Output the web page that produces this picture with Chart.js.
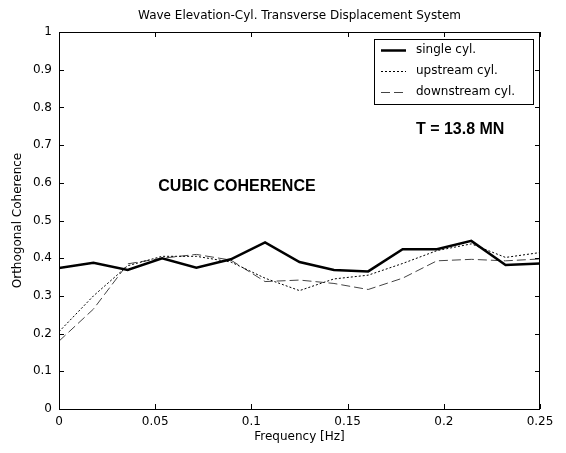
<!DOCTYPE html>
<html>
<head>
<meta charset="utf-8">
<script src="https://cdn.jsdelivr.net/npm/chart.js@4"></script>
<style>
  html, body { margin: 0; padding: 0; background: #fff; }
  #wrap { width: 566px; height: 453px; }
</style>
</head>
<body>
<div id="wrap"><canvas id="coh" width="566" height="453"></canvas></div>
<script>
// frequencies [Hz]
const freq = [0, 0.0179, 0.0357, 0.0536, 0.0714, 0.0893, 0.1071, 0.125, 0.1429, 0.1607, 0.1786, 0.1964, 0.2143, 0.2321, 0.25];
const singleCyl = [0.374, 0.388, 0.369, 0.400, 0.375, 0.397, 0.442, 0.390, 0.369, 0.365, 0.424, 0.424, 0.446, 0.382, 0.386];
const upstreamCyl = [0.205, 0.300, 0.380, 0.405, 0.405, 0.390, 0.347, 0.314, 0.345, 0.355, 0.386, 0.420, 0.438, 0.402, 0.415];
const downstreamCyl = [0.180, 0.265, 0.385, 0.400, 0.410, 0.395, 0.338, 0.342, 0.333, 0.317, 0.347, 0.393, 0.397, 0.393, 0.398];
const xTicks = [0, 0.05, 0.1, 0.15, 0.2, 0.25];
const yTicks = [0, 0.1, 0.2, 0.3, 0.4, 0.5, 0.6, 0.7, 0.8, 0.9, 1];
const legendLabels = ['single cyl.', 'upstream cyl.', 'downstream cyl.'];

const FONT = '"DejaVu Sans", sans-serif';
const BOLD = 'Arial, "Liberation Sans", sans-serif';

function pts(ys) {
  return freq.map((f, i) => ({ x: f, y: ys[i] }));
}

// matlab-like box, inward ticks, titles, legend and text notes
const matlabBox = {
  id: 'matlabBox',
  afterDraw(chart) {
    const ctx = chart.ctx;
    const a = chart.chartArea;
    const xs = chart.scales.x, ys = chart.scales.y;
    ctx.save();
    ctx.strokeStyle = '#000';
    ctx.lineWidth = 1;
    ctx.setLineDash([]);
    ctx.strokeRect(Math.round(a.left) + 0.5, Math.round(a.top) + 0.5,
      Math.round(a.right - a.left) - 1, Math.round(a.bottom - a.top));
    ctx.beginPath();
    xTicks.forEach(v => {
      const px = Math.round(xs.getPixelForValue(v)) + 0.5;
      ctx.moveTo(px, a.bottom); ctx.lineTo(px, a.bottom - 5);
      ctx.moveTo(px, a.top); ctx.lineTo(px, a.top + 5);
    });
    yTicks.forEach(v => {
      const py = Math.round(ys.getPixelForValue(v)) + 0.5;
      ctx.moveTo(a.left, py); ctx.lineTo(a.left + 5, py);
      ctx.moveTo(a.right, py); ctx.lineTo(a.right - 5, py);
    });
    ctx.stroke();

    ctx.fillStyle = '#000';
    ctx.textAlign = 'center';
    ctx.textBaseline = 'middle';
    ctx.font = '12px ' + FONT;
    ctx.fillText('Wave Elevation-Cyl. Transverse Displacement System', (a.left + a.right) / 2, 16);
    ctx.fillText('Frequency [Hz]', (a.left + a.right) / 2, 437);
    ctx.save();
    ctx.translate(18, (a.top + a.bottom) / 2);
    ctx.rotate(-Math.PI / 2);
    ctx.fillText('Orthogonal Coherence', 0, 0);
    ctx.restore();

    ctx.font = 'bold 16px ' + BOLD;
    ctx.fillText('CUBIC COHERENCE', xs.getPixelForValue(0.0925), ys.getPixelForValue(0.591));
    ctx.fillText('T = 13.8 MN', xs.getPixelForValue(0.2085), ys.getPixelForValue(0.74));

    // legend
    const lx = 374, ly = 39, lw = 159, lh = 65;
    ctx.fillStyle = '#fff';
    ctx.fillRect(lx, ly, lw, lh);
    ctx.strokeStyle = '#000';
    ctx.lineWidth = 1;
    ctx.strokeRect(lx + 0.5, ly + 0.5, lw, lh);
    chart.data.datasets.forEach((ds, i) => {
      const y = 50 + i * 21;
      ctx.beginPath();
      ctx.strokeStyle = ds.borderColor;
      ctx.lineWidth = ds.borderWidth;
      ctx.setLineDash(ds.borderDash || []);
      ctx.moveTo(381, y + 0.5);
      ctx.lineTo(406, y + 0.5);
      ctx.stroke();
      ctx.setLineDash([]);
      ctx.fillStyle = '#000';
      ctx.textAlign = 'left';
      ctx.font = '12px ' + FONT;
      ctx.fillText(legendLabels[i], 416, y);
    });
    ctx.restore();
  }
};

new Chart(document.getElementById('coh'), {
  type: 'line',
  data: {
    datasets: [
      { label: legendLabels[0], data: pts(singleCyl), borderColor: '#000', borderWidth: 2.5, pointRadius: 0, tension: 0, fill: false },
      { label: legendLabels[1], data: pts(upstreamCyl), borderColor: '#000', borderWidth: 1, borderDash: [2, 2], pointRadius: 0, tension: 0, fill: false },
      { label: legendLabels[2], data: pts(downstreamCyl), borderColor: '#444', borderWidth: 1, borderDash: [9, 4], pointRadius: 0, tension: 0, fill: false }
    ]
  },
  options: {
    responsive: false,
    animation: false,
    layout: { padding: { top: 32, right: 26, left: 0, bottom: 0 } },
    plugins: {
      legend: { display: false },
      title: { display: false },
      tooltip: { enabled: false }
    },
    scales: {
      x: {
        type: 'linear',
        min: 0, max: 0.25,
        afterBuildTicks: s => { s.ticks = xTicks.map(v => ({ value: v })); },
        afterFit: s => { s.height = 44; },
        grid: { drawOnChartArea: false, drawTicks: false },
        border: { display: false },
        ticks: { color: '#000', padding: 6, font: { family: FONT, size: 12 }, maxRotation: 0, callback: v => String(v) }
      },
      y: {
        min: 0, max: 1,
        afterBuildTicks: s => { s.ticks = yTicks.map(v => ({ value: v })); },
        afterFit: s => { s.width = 59; },
        grid: { drawOnChartArea: false, drawTicks: false },
        border: { display: false },
        ticks: { color: '#000', padding: 7, font: { family: FONT, size: 12 }, callback: v => String(v) }
      }
    }
  },
  plugins: [matlabBox]
});
</script>
</body>
</html>
